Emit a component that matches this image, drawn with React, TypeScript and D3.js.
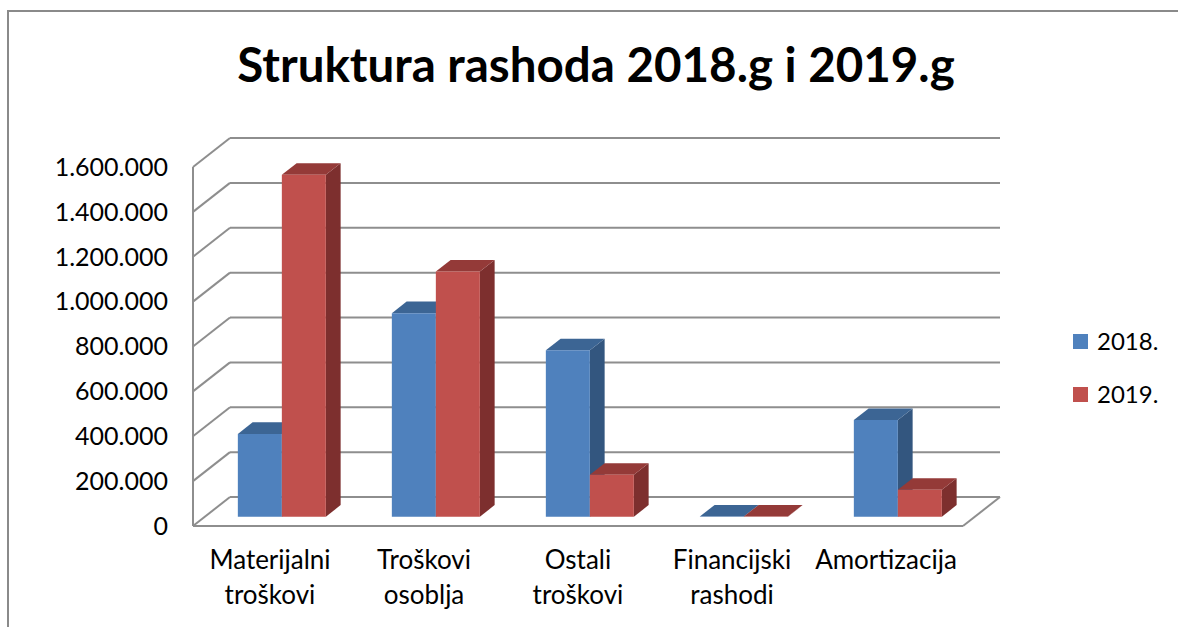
import React from "react";
import * as d3 from "d3";

const categories = [
  ["Materijalni", "troškovi"],
  ["Troškovi", "osoblja"],
  ["Ostali", "troškovi"],
  ["Financijski", "rashodi"],
  ["Amortizacija"],
];
const categoryKeys = ["Materijalni troškovi", "Troškovi osoblja", "Ostali troškovi", "Financijski rashodi", "Amortizacija"];
const seriesNames = ["2018.", "2019."];
const values2018 = [369000, 907000, 742000, 1000, 431000];
const values2019 = [1524000, 1093000, 187000, 1000, 120000];
const yTicks = [0, 200000, 400000, 600000, 800000, 1000000, 1200000, 1400000, 1600000];
const yTickLabels = ["0", "200.000", "400.000", "600.000", "800.000", "1.000.000", "1.200.000", "1.400.000", "1.600.000"];
const title = "Struktura rashoda 2018.g i 2019.g";

const W = 1178;
const H = 627;
const FONT = "Lato, 'Open Sans', sans-serif";

const colors = [
  { front: "#4F81BD", top: "#3C6594", side: "#33567F" },
  { front: "#C0504D", top: "#943A38", side: "#7D2F2E" },
];

export default function App() {
  const fx0 = 193, fx1 = 963;
  const DX = 37, DY = -29;
  const y = d3.scaleLinear().domain([0, 1600000]).range([526, 167]);
  const x = d3.scaleBand<string>().domain(categoryKeys).range([fx0, fx1]).paddingInner(0).paddingOuter(0);
  const xs = d3.scaleBand<string>().domain(seriesNames).range([0, x.bandwidth()]).paddingInner(0).paddingOuter(0.75);
  const f0 = 0.32, f1 = 0.72;
  const P = (px: number, py: number, f: number) => `${px + f * DX},${py + f * DY}`;
  const grid = "#8E8E8E";
  const series = [values2018, values2019];

  const bars: React.ReactNode[] = [];
  categoryKeys.forEach((c, ci) => {
    seriesNames.forEach((s, si) => {
      const v = series[si][ci];
      const bx0 = (x(c) as number) + (xs(s) as number);
      const bx1 = bx0 + xs.bandwidth();
      const yt = y(v);
      const yb = y(0);
      const col = colors[si];
      bars.push(
        <g key={`${ci}-${si}`}>
          <polygon points={[P(bx1, yt, f0), P(bx1, yt, f1), P(bx1, yb, f1), P(bx1, yb, f0)].join(" ")} fill={col.side} />
          <polygon points={[P(bx0, yt, f0), P(bx1, yt, f0), P(bx1, yt, f1), P(bx0, yt, f1)].join(" ")} fill={col.top} />
          <polygon points={[P(bx0, yt, f0), P(bx1, yt, f0), P(bx1, yb, f0), P(bx0, yb, f0)].join(" ")} fill={col.front} />
        </g>
      );
    });
  });

  return (
    <svg width={W} height={H} style={{ position: "absolute", left: 0, top: 0, background: "#fff" }}>
      <rect x={0} y={0} width={W} height={H} fill="#fff" />
      {/* outer frame */}
      <path d={`M8,${H + 5} L8,11 L${W + 5},11`} fill="none" stroke="#8A8A8A" strokeWidth={2} />
      <text x={596} y={82} textAnchor="middle" fontFamily={FONT} fontWeight="bold" fontSize={47.5} fill="#000">
        {title}
      </text>
      {/* back wall gridlines */}
      {yTicks.map((t) => (
        <line key={`g${t}`} x1={fx0 + DX} x2={fx1 + DX} y1={y(t) + DY} y2={y(t) + DY} stroke={grid} strokeWidth={2} />
      ))}
      {/* side wall diagonals */}
      {yTicks.map((t) => (
        <line key={`d${t}`} x1={fx0} y1={y(t)} x2={fx0 + DX} y2={y(t) + DY} stroke={grid} strokeWidth={2} />
      ))}
      <line x1={fx0} x2={fx0} y1={y(1600000)} y2={y(0)} stroke={grid} strokeWidth={2} />
      {/* floor */}
      <line x1={fx0} x2={fx1} y1={y(0)} y2={y(0)} stroke={grid} strokeWidth={2} />
      <line x1={fx1} y1={y(0)} x2={fx1 + DX} y2={y(0) + DY} stroke={grid} strokeWidth={2} />
      {bars}
      {/* y labels */}
      {yTicks.map((t, i) => (
        <text key={`l${t}`} x={168} y={y(t)} dy="0.35em" textAnchor="end" fontFamily={FONT} fontSize={25} fill="#000">
          {yTickLabels[i]}
        </text>
      ))}
      {/* category labels */}
      {categoryKeys.map((c, ci) => (
        <text key={`c${c}`} textAnchor="middle" fontFamily={FONT} fontSize={26} fill="#000">
          {categories[ci].map((ln, li) => (
            <tspan key={li} x={(x(c) as number) + x.bandwidth() / 2} y={569 + li * 35}>
              {ln}
            </tspan>
          ))}
        </text>
      ))}
      {/* legend */}
      {seriesNames.map((s, si) => (
        <g key={`lg${s}`}>
          <rect x={1073} y={334 + si * 53} width={15} height={15} fill={colors[si].front} />
          <text x={1097} y={342 + si * 53} dy="0.35em" fontFamily={FONT} fontSize={24} fill="#000">
            {s}
          </text>
        </g>
      ))}
    </svg>
  );
}
